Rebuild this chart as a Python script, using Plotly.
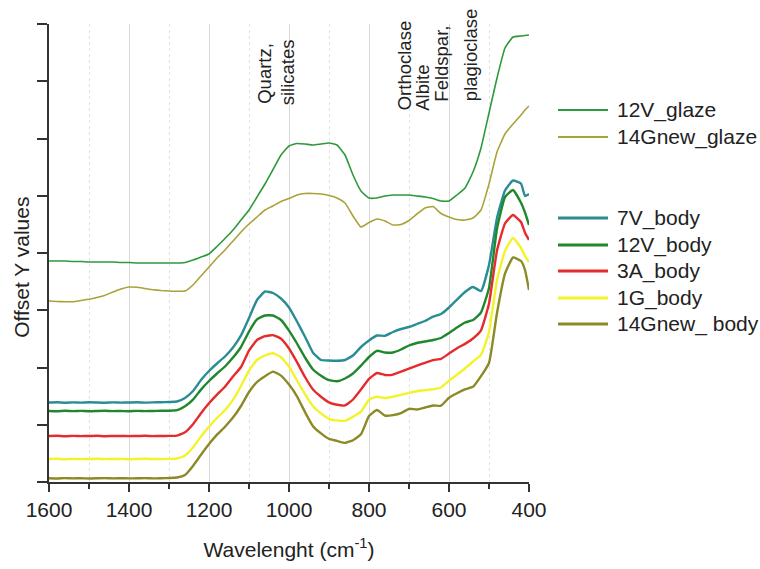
import plotly.graph_objects as go

# ---------------- data ----------------
wavenumber = [1600, 1580, 1560, 1540, 1520, 1500, 1480, 1460, 1440, 1420,
              1400, 1380, 1360, 1340, 1320, 1300, 1280, 1260, 1240, 1220,
              1200, 1180, 1160, 1140, 1120, 1100, 1080, 1060, 1040, 1020,
              1000, 980, 960, 940, 920, 900, 880, 860, 840, 820,
              800, 780, 760, 740, 720, 700, 680, 660, 640, 620,
              600, 580, 560, 540, 520, 500, 480, 460, 440, 420,
              410, 400]

glaze_12V = [221, 221, 221, 220.5, 220.5, 220, 220, 220, 220, 219.5,
             219.5, 219, 219, 219, 219, 219, 219, 219.5, 222, 225,
             228, 235.5, 243.5, 252, 262, 272, 285, 298, 312.5, 327,
             336, 338.5, 338, 337, 338, 339, 337, 327, 307, 291,
             284, 284, 286, 287, 287, 287, 286, 285, 283.5, 281,
             281, 287, 294, 310, 334, 369, 404, 434, 445, 446,
             446.5, 447]

glaze_14Gnew = [181, 180.5, 180.3, 180.3, 181.5, 182.7, 184.5, 186.7, 190, 193,
                195, 194.7, 193.5, 192.3, 191.5, 191, 190.7, 191, 197, 206,
                215, 224, 232, 241, 250, 258, 265, 272, 276, 280.5,
                283.5, 287, 288.5, 288.5, 288, 286.5, 284, 279, 266, 255,
                259.5, 263, 261, 257, 257.5, 261.5, 268, 274, 275.5, 268.5,
                265, 262.5, 262, 264, 272, 298, 330, 348, 358, 367,
                372, 376]

body_7V = [79.5, 79.8, 79.3, 79.6, 79.4, 79.7, 79.5, 79.3, 79.6, 79.4,
           79.5, 79.7, 79.4, 79.6, 79.8, 80, 80.5, 84, 91, 102,
           111, 118.5, 125.5, 134.4, 146.6, 164, 182, 190.5, 189, 183.5,
           174.5, 160.5, 145.3, 129.3, 122, 121.5, 121.3, 122, 126.5, 135,
           141.5, 146.5, 146.2, 150, 153, 155, 158, 161, 165.3, 168,
           174.5, 182.4, 190, 195, 191, 217, 264, 291.5, 301.5, 298.5,
           286, 288]

body_12V = [71, 70.8, 71.2, 70.9, 71.1, 70.8, 71, 71.2, 70.9, 71,
            70.8, 71.1, 70.9, 71, 71.2, 71.3, 71.8, 75.7, 82.4, 92.4,
            101, 108.5, 115.5, 124.4, 135, 150.4, 162.7, 166.5, 166.5, 162,
            151.4, 138.5, 124.5, 112.5, 106.3, 101.8, 100.7, 103.5, 108.5, 116.3,
            125, 131.2, 129.5, 129.5, 132.5, 136.5, 139, 140.5, 142, 144,
            149, 154.5, 159.5, 162, 169.5, 194, 253.3, 285, 292, 279.3,
            269.5, 257]

body_3A = [46, 46.2, 45.8, 46.1, 45.9, 46, 46.2, 45.8, 46, 46.1,
           45.9, 46, 46.2, 45.9, 46, 46.1, 46.4, 49.8, 57.8, 68.8,
           78.7, 87.4, 95.3, 105.4, 115, 131.4, 142, 145.8, 146.9, 143.3,
           133.5, 119.8, 105, 92.5, 85.3, 79.6, 77.2, 76.6, 82.5, 92.5,
           103.1, 109, 107, 107.4, 110.3, 113.3, 116.3, 119.2, 121.9, 123.1,
           128.4, 133.8, 138.1, 143.5, 151.6, 178.5, 231.5, 258.5, 267, 260,
           249.3, 242]

body_1G = [23, 23.2, 22.8, 23.1, 22.9, 23, 23.2, 22.9, 23, 23.1,
           22.8, 23, 23.2, 23, 22.9, 23.1, 23.5, 26.6, 34.5, 45.6,
           55.3, 64, 72, 82.1, 96, 111.4, 122, 126.5, 128.8, 124.7,
           115.5, 101.5, 87.8, 75.8, 68.6, 63.2, 61.6, 61.2, 65.2, 70.3,
           82.3, 85.3, 84, 85.3, 87.2, 89.2, 90.8, 91.8, 92.8, 94.5,
           101.2, 107.2, 113.5, 120.5, 127.1, 150, 202, 231, 244, 234,
           226, 220]

body_14Gnew = [3.7, 3.5, 3.9, 3.6, 3.8, 3.5, 3.7, 3.9, 3.6, 3.8,
               3.6, 3.7, 3.9, 3.6, 3.8, 4, 4.5, 7, 16.1, 27.2,
               37.9, 47.4, 55.3, 64.4, 76, 90, 100, 105.8, 110.4, 106.4,
               97.4, 85.7, 69.9, 55.8, 48.6, 43.1, 41.1, 39.1, 41.8, 47.7,
               65.9, 72, 66.4, 66.9, 68.9, 73.2, 72.5, 74.5, 76.5, 76.3,
               84.3, 88.8, 92.6, 95.2, 105.9, 119, 169, 208.3, 224.5, 221,
               212, 192]

series_names = ["12V_glaze", "14Gnew_glaze", "7V_body", "12V_body",
                "3A_body", "1G_body", "14Gnew_ body"]
series_values = [glaze_12V, glaze_14Gnew, body_7V, body_12V,
                 body_3A, body_1G, body_14Gnew]

band_labels = ["Quartz,", "silicates", "Orthoclase", "Albite",
               "Feldspar,", "plagioclase"]

x_ticks = [1600, 1400, 1200, 1000, 800, 600, 400]

# ---------------- styles ----------------
colors = ["#2e993c", "#aaa238", "#2a8d94", "#20882c",
          "#e52b2b", "#f3f32a", "#8c8a26"]
widths = [1.6, 1.6, 2.4, 2.4, 2.4, 2.4, 2.4]
legend_y = [0.8122, 0.7533, 0.5764, 0.5175, 0.4607, 0.4017, 0.345]
band_pos = [(0.449, 0.8215), (0.497, 0.8171), (0.7396, 0.8062),
            (0.7792, 0.8062), (0.8188, 0.8261), (0.8771, 0.8261)]

FONT = "Liberation Sans, Arial, sans-serif"

fig = go.Figure()
for name, vals, col, w in zip(series_names, series_values, colors, widths):
    fig.add_trace(go.Scatter(
        x=wavenumber, y=vals, mode="lines", name=name,
        line=dict(color=col, width=w, shape="spline", smoothing=0.4),
        showlegend=False))

shapes = []
annotations = []
for name, col, w, ly in zip(series_names, colors, widths, legend_y):
    shapes.append(dict(type="line", xref="paper", yref="paper",
                       x0=1.0604, x1=1.1646, y0=ly, y1=ly,
                       line=dict(color=col, width=w + 0.6)))
    annotations.append(dict(xref="paper", yref="paper", x=1.179, y=ly,
                            xanchor="left", yanchor="middle", text=name,
                            showarrow=False,
                            font=dict(size=21, color="#222", family=FONT)))

for txt, (bx, by) in zip(band_labels, band_pos):
    annotations.append(dict(xref="paper", yref="paper", x=bx, y=by,
                            xanchor="center", yanchor="bottom", text=txt,
                            textangle=-90, showarrow=False,
                            font=dict(size=18.5, color="#222", family=FONT)))

annotations.append(dict(xref="paper", yref="paper", x=-0.056, y=0.468,
                        xanchor="center", yanchor="middle",
                        text="Offset Y values", textangle=-90,
                        showarrow=False,
                        font=dict(size=21, color="#222", family=FONT)))

fig.update_layout(
    width=760, height=569,
    margin=dict(l=49, r=231, t=24, b=87),
    plot_bgcolor="white", paper_bgcolor="white",
    font=dict(family=FONT, size=21, color="#222"),
    showlegend=False,
    shapes=shapes, annotations=annotations,
    xaxis=dict(
        range=[1600, 400], tickmode="array", tickvals=x_ticks,
        ticks="outside", ticklen=8, tickwidth=1.5, tickcolor="#333",
        showline=True, linecolor="#333", linewidth=1.5,
        showgrid=True, gridcolor="#d9d9d9", gridwidth=1, zeroline=False,
        tickfont=dict(size=21, color="#222"),
        minor=dict(dtick=100, tick0=400, ticks="outside", ticklen=5,
                   tickwidth=1.5, tickcolor="#333", showgrid=True,
                   gridcolor="#e3e3e3", griddash="dot", gridwidth=1),
        title=dict(text="Wavelenght (cm<sup>-1</sup>)",
                   font=dict(size=21, color="#222"), standoff=22),
    ),
    yaxis=dict(
        range=[0, 458], tickmode="linear", tick0=0, dtick=57.25,
        ticks="outside", ticklen=10, tickwidth=1.5, tickcolor="#333",
        showticklabels=False, showline=True, linecolor="#333",
        linewidth=1.5, showgrid=False, zeroline=False,
    ),
)

fig.write_html("out.html")
